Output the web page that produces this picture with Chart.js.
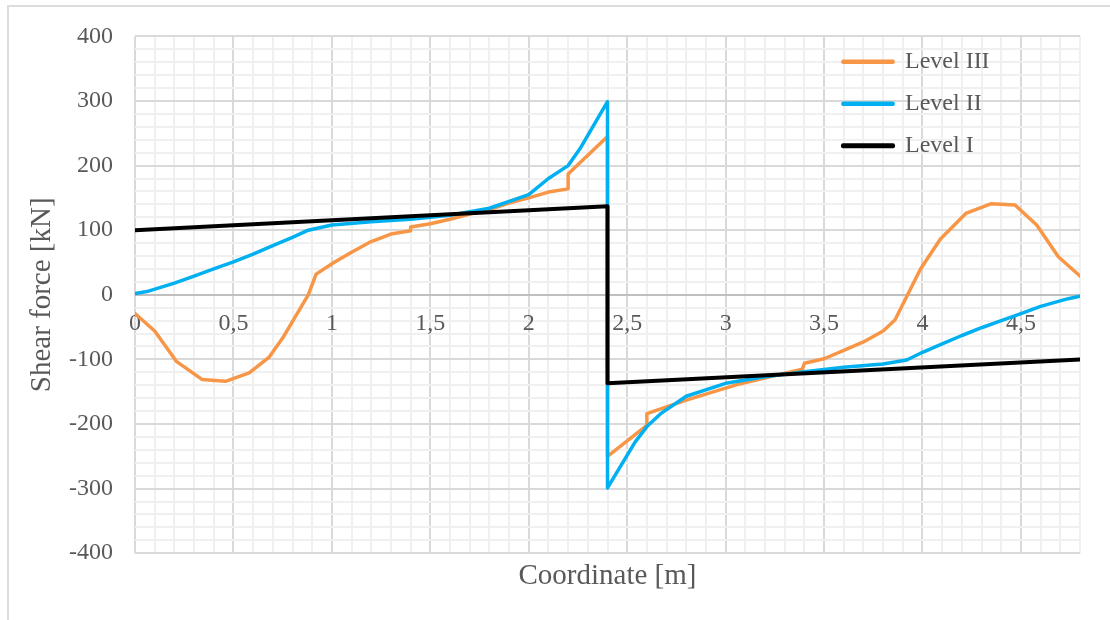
<!DOCTYPE html>
<html>
<head>
<meta charset="utf-8">
<title>Shear force</title>
<script src="https://cdn.jsdelivr.net/npm/chart.js@4.4.1/dist/chart.umd.min.js"></script>
<style>
  html, body { margin: 0; padding: 0; overflow: hidden; background: #fff; }
  .wrap { position: relative; width: 1110px; height: 620px; overflow: hidden; }
  .frame { position: absolute; left: 7px; top: 5px; width: 1200px; height: 700px; border: 2px solid #dcdcdc; }
  .plot { position: absolute; left: 0; top: 0; width: 1110px; height: 620px; }
</style>
</head>
<body>
<div class="wrap">
  <div class="frame"></div>
  <div class="plot"><canvas id="shearChart"></canvas></div>
</div>
<script>
  // shear force along the beam, three load levels
  const levelIx = [0, 2.4, 2.4, 4.8];
  const levelIy = [100, 137, -137, -100];

  const levelIIx = [0, 0.06, 0.2, 0.3, 0.4, 0.5, 0.6, 0.7, 0.8, 0.88, 1.0, 1.2, 1.4, 1.6, 1.8, 2.0, 2.1, 2.2, 2.26, 2.4,
    2.4, 2.54, 2.6, 2.67, 2.8, 3.0, 3.2, 3.4, 3.6, 3.8, 3.92, 4.0, 4.1, 4.2, 4.3, 4.4, 4.5, 4.6, 4.74, 4.8];
  const levelIIy = [2, 5, 18, 29, 40, 51, 63, 76, 89, 100, 108, 113, 117, 123, 134, 155, 180, 200, 226, 299,
    -299, -228, -204, -184, -157, -137, -127, -119, -112, -107, -101, -89, -76, -63, -51, -40, -29, -18, -6, -2];

  const levelIIIx = [0, 0.1, 0.21, 0.34, 0.46, 0.58, 0.68, 0.75, 0.88, 0.92, 1.01, 1.1, 1.19, 1.3, 1.4, 1.4, 1.5, 1.6,
    1.7, 1.8, 1.9, 2.0, 2.1, 2.2, 2.2, 2.4, 2.4, 2.6, 2.6, 2.8, 3.07, 3.39, 3.4, 3.5, 3.6, 3.7, 3.8, 3.86, 3.99,
    4.09, 4.22, 4.35, 4.47, 4.58, 4.69, 4.8];
  const levelIIIy = [-29, -56, -103, -131, -134, -121, -97, -67, 0, 32, 50, 66, 81, 94, 99, 105, 110, 117,
    125, 132, 142, 150, 159, 164, 187, 245, -250, -202, -184, -163, -138, -115, -106, -99, -86, -73, -56, -39, 40,
    86, 126, 141, 139, 108, 59, 29];

  const seriesNames = ['Level I', 'Level II', 'Level III'];
  const seriesColors = ['#000000', '#00b0f0', '#f79646'];

  const textColor = '#595959';
  const majorGrid = '#d9d9d9';
  const minorGrid = '#f0f0f0';

  const toPoints = (xs, ys) => xs.map((x, i) => ({ x: x, y: ys[i] }));
  // tick values in tenths of a metre, rounded so float noise does not leak into labels
  const tenths = (v) => Math.round(v * 10);

  // put the legend in the upper right corner of the plot
  const legendSpot = {
    id: 'legendSpot',
    afterLayout(chart) {
      const lg = chart.legend;
      const pad = lg.options.labels.padding;
      lg.left = 843 - pad;
      lg.top = 49.7 - pad;
    },
  };

  Chart.defaults.font.family = "'Liberation Serif', 'Times New Roman', serif";
  Chart.defaults.color = textColor;

  const pointSets = [toPoints(levelIx, levelIy), toPoints(levelIIx, levelIIy), toPoints(levelIIIx, levelIIIy)];

  const ctx = document.getElementById('shearChart').getContext('2d');
  const shearChart = new Chart(ctx, {
    type: 'line',
    data: {
      datasets: pointSets.map((pts, i) => ({
        label: seriesNames[i],
        data: pts,
        borderColor: seriesColors[i],
        backgroundColor: seriesColors[i],
        borderWidth: i === 0 ? 4 : 3.5,
        pointRadius: 0,
        tension: 0,
        fill: false,
        borderJoinStyle: 'round',
        borderCapStyle: 'round',
      })),
    },
    options: {
      responsive: true,
      maintainAspectRatio: false,
      animation: false,
      events: [],
      layout: { padding: { left: 19, right: 30, top: 35, bottom: 26 } },
      scales: {
        x: {
          type: 'linear',
          position: { y: 0 },
          min: 0,
          max: 4.8,
          border: { display: false },
          grid: {
            drawTicks: false,
            lineWidth: 2,
            color: (c) => (tenths(c.tick.value) % 5 === 0 ? majorGrid : minorGrid),
          },
          ticks: {
            stepSize: 0.1,
            maxTicksLimit: 100,
            autoSkip: false,
            maxRotation: 0,
            padding: 15,
            font: { size: 24 },
            callback: (v) => (tenths(v) % 5 === 0 ? String(tenths(v) / 10).replace('.', ',') : ''),
          },
        },
        y: {
          min: -400,
          max: 400,
          border: { display: false },
          afterFit: (s) => { s.width = 116; },
          grid: {
            drawTicks: false,
            lineWidth: 2,
            color: (c) => (c.tick.value === 0 ? '#bfbfbf' : c.tick.value % 100 === 0 ? majorGrid : minorGrid),
          },
          ticks: {
            stepSize: 20,
            maxTicksLimit: 100,
            autoSkip: false,
            padding: 22,
            font: { size: 24 },
            callback: (v) => (Math.round(v) % 100 === 0 ? Math.round(v) : ''),
          },
          title: {
            display: true,
            text: 'Shear force [kN]',
            font: { size: 29 },
            padding: { top: 6, bottom: 4 },
          },
        },
      },
      plugins: {
        legend: {
          position: 'chartArea',
          align: 'start',
          reverse: true,
          labels: {
            boxWidth: 50,
            boxHeight: 1,
            padding: 18,
            color: textColor,
            font: { size: 24 },
          },
        },
        title: {
          display: true,
          text: 'Coordinate [m]',
          position: 'bottom',
          fullSize: false,
          color: textColor,
          font: { size: 29, weight: 'normal' },
          padding: { top: 6, bottom: 0 },
        },
        tooltip: { enabled: false },
      },
    },
    plugins: [legendSpot],
  });
</script>
</body>
</html>
